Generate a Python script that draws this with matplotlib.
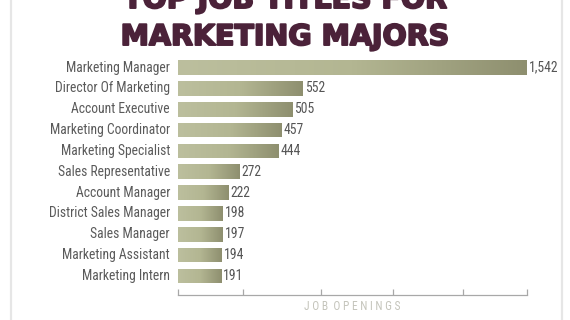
import matplotlib
matplotlib.use("Agg")
import matplotlib.pyplot as plt
import numpy as np
from matplotlib import font_manager
from matplotlib.font_manager import FontProperties
from matplotlib.colors import LinearSegmentedColormap
from matplotlib.lines import Line2D
import matplotlib.patheffects as pe

titles = [
    "Marketing Manager", "Director Of Marketing", "Account Executive",
    "Marketing Coordinator", "Marketing Specialist", "Sales Representative",
    "Account Manager", "District Sales Manager", "Sales Manager",
    "Marketing Assistant", "Marketing Intern",
]
openings = [1542, 552, 505, 457, 444, 272, 222, 198, 197, 194, 191]
title_lines = ["TOP JOB TITLES FOR", "MARKETING MAJORS"]
axis_label = "JOB OPENINGS"


def find_narrow_font():
    """Pick a regular-weight narrow/condensed sans face if one is installed."""
    narrow_stretch = {"condensed", "semi-condensed", "extra-condensed",
                      "ultra-condensed"}
    best = None
    for f in font_manager.fontManager.ttflist:
        st = f.stretch
        is_narrow = ("Narrow" in f.name or "Condensed" in f.name
                     or (isinstance(st, str) and st in narrow_stretch)
                     or (isinstance(st, (int, float)) and st < 500))
        if not is_narrow or f.style != "normal":
            continue
        w = f.weight if isinstance(f.weight, int) else (700 if "bold" in str(f.weight) else 400)
        if w != 400:
            continue
        rank = 0 if "Liberation" in f.name else 1 if "Roboto" in f.name else 2 if "Noto" in f.name else 3
        if best is None or rank < best[0]:
            best = (rank, f.fname)
    if best:
        return FontProperties(fname=best[1])
    return FontProperties(family="DejaVu Sans", stretch="condensed")


narrow = find_narrow_font()

W, H = 570, 320
fig = plt.figure(figsize=(W / 100, H / 100), dpi=100)
fig.patch.set_facecolor("white")

# axes placed in pixel terms
left, right = 178, 527
top, bottom = 55, 295
ax = fig.add_axes([left / W, 1 - bottom / H, (right - left) / W, (bottom - top) / H])
ax.set_facecolor("none")

xmax = 1545
n = len(titles)
ypos = np.arange(n)
bar_h = 0.7
ax.set_xlim(0, xmax)
ax.set_ylim(n - 1 + 0.91, -0.6)

cmap = LinearSegmentedColormap.from_list("olive", ["#bcbf9e", "#b3b692", "#8e8f6f"])
grad = np.linspace(0, 1, 256).reshape(1, -1)
bars = ax.barh(ypos, openings, height=bar_h, color="none", edgecolor="none")
val_fp = narrow.copy()
val_fp.set_size(9.8)
for rect, v in zip(bars, openings):
    y0 = rect.get_y()
    im = ax.imshow(grad, cmap=cmap, aspect="auto",
                   extent=(0, v, y0 + bar_h, y0), zorder=2, interpolation="bicubic")
    im.set_clip_path(rect)
    ax.text(v + 10, rect.get_y() + bar_h / 2, f"{v:,}", ha="left", va="center",
            fontproperties=val_fp, color="#555555")

label_fp = narrow.copy()
label_fp.set_size(9.8)
for y, t in zip(ypos, titles):
    ax.text(-0.023 * xmax, y, t, ha="right", va="center",
            fontproperties=label_fp, color="#5a5a5a")

for s in ["top", "right", "left"]:
    ax.spines[s].set_visible(False)
ax.spines["bottom"].set_color("#a8a8a8")
ax.spines["bottom"].set_linewidth(0.9)
ax.set_yticks([])
tick_fracs = [0.0, 0.186, 0.41, 0.616, 0.817, 1.0]
ax.set_xticks([f * xmax for f in tick_fracs])
ax.set_xticklabels([])
ax.tick_params(axis="x", direction="in", length=4, color="#a8a8a8", width=0.9)

spaced = "  ".join(" ".join(w) for w in axis_label.split())
ax_fp = narrow.copy()
ax_fp.set_size(8.3)
fig.text((left + right) / 2 / W, 1 - 306 / H, spaced, ha="center", va="center",
         fontproperties=ax_fp, color="#c4c4bb")

# title block
title_color = "#4b2239"
for txt, base in zip(title_lines, (8, 45)):
    fig.text(285 / W, 1 - base / H, txt, ha="center", va="baseline",
             fontsize=20.5, fontweight="bold", color=title_color, family="DejaVu Sans",
             path_effects=[pe.withStroke(linewidth=1.4, foreground=title_color)])

# card edges
for x in (11, 562):
    fig.add_artist(Line2D([x / W, x / W], [0, 1], color="#e6e6e6", lw=1.6))

fig.savefig("out.png", dpi=100, facecolor="white")
